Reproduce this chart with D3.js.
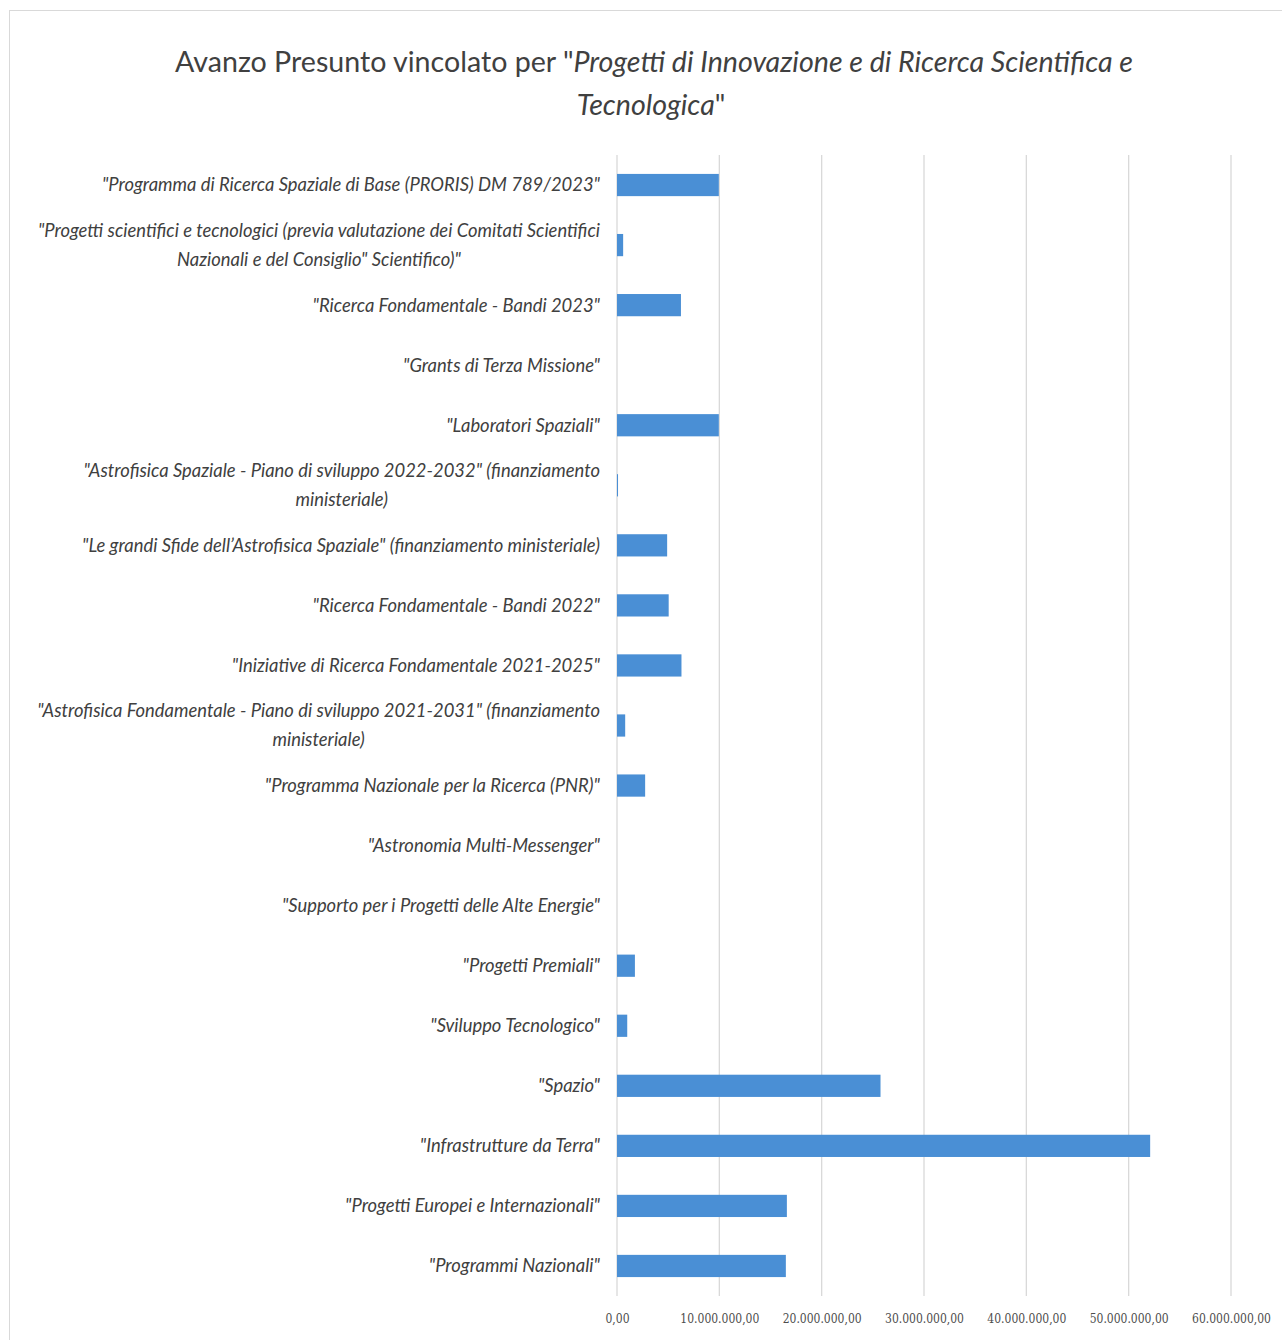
<!DOCTYPE html>
<html>
<head>
<meta charset="utf-8">
<script src="https://cdn.jsdelivr.net/npm/d3@7"></script>
<style>
  body { margin: 0; background: #fff; }
</style>
</head>
<body>
<div id="chart"></div>
<script>
// categories top to bottom, "\n" marks a line break in the label
const categories = [
    '"Programma di Ricerca Spaziale di Base (PRORIS) DM 789/2023"',
    '"Progetti scientifici e tecnologici (previa valutazione dei Comitati Scientifici\nNazionali e del Consiglio" Scientifico)"',
    '"Ricerca Fondamentale - Bandi 2023"',
    '"Grants di Terza Missione"',
    '"Laboratori Spaziali"',
    '"Astrofisica Spaziale - Piano di sviluppo 2022-2032" (finanziamento\nministeriale)',
    '"Le grandi Sfide dell\u2019Astrofisica Spaziale" (finanziamento ministeriale)',
    '"Ricerca Fondamentale - Bandi 2022"',
    '"Iniziative di Ricerca Fondamentale 2021-2025"',
    '"Astrofisica Fondamentale - Piano di sviluppo 2021-2031" (finanziamento\nministeriale)',
    '"Programma Nazionale per la Ricerca (PNR)"',
    '"Astronomia Multi-Messenger"',
    '"Supporto per i Progetti delle Alte Energie"',
    '"Progetti Premiali"',
    '"Sviluppo Tecnologico"',
    '"Spazio"',
    '"Infrastrutture da Terra"',
    '"Progetti Europei e Internazionali"',
    '"Programmi Nazionali"'
]

// euro amounts, same order as categories
const values = [
    9950000, 600000, 6250000, 0, 9950000, 100000, 4900000, 5050000, 6300000,
    800000, 2750000, 0, 0, 1750000, 1000000, 25750000, 52100000, 16600000, 16500000
]

const xTicks = [0, 10000000, 20000000, 30000000, 40000000, 50000000, 60000000]

const titleLine1 = ["Avanzo  Presunto vincolato per \"", "Progetti di Innovazione e di Ricerca Scientifica e"]
const titleLine2 = ["Tecnologica", "\""]

function drawChart() {
    const width = 1282
    const height = 1340
    const plotLeft = 617
    const plotRight = 1231
    const plotTop = 155
    const plotBottom = 1296
    const textColor = "#404040"

    const svg = d3.select("#chart").append("svg")
        .attr("width", width).attr("height", height)
        .style("font-family", "Lato, 'Open Sans', sans-serif")

    // outer chart border
    svg.append("rect")
        .attr("x", 9.5).attr("y", 10.5)
        .attr("width", width + 10).attr("height", height + 10)
        .attr("fill", "#fff").attr("stroke", "#d9d9d9")

    const x = d3.scaleLinear().domain([0, 60000000]).range([plotLeft, plotRight])
    const y = d3.scaleBand().domain(categories).range([plotTop, plotBottom])
        .paddingInner(0.63).paddingOuter(0.315)

    // italian number format: 10.000.000,00
    const it = d3.formatLocale({ decimal: ",", thousands: ".", grouping: [3], currency: ["", " €"] })
    const fmt = it.format(",.2f")

    // gridlines
    svg.append("g").selectAll("line")
        .data(xTicks).join("line")
        .attr("x1", (d) => x(d)).attr("x2", (d) => x(d))
        .attr("y1", plotTop).attr("y2", plotBottom)
        .attr("stroke", "#d9d9d9").attr("stroke-width", 1.3)

    // tick labels
    const xAxis = svg.append("g")
        .attr("transform", `translate(0, ${plotBottom})`)
        .call(d3.axisBottom(x).tickValues(xTicks).tickFormat(fmt).tickSize(0).tickPadding(18))
    xAxis.select(".domain").remove()
    xAxis.selectAll("text")
        .attr("fill", "#4d4d4d")
        .style("font-size", "12px")
        .style("font-family", "'DejaVu Serif Condensed', 'Liberation Serif', serif")

    // bars
    svg.append("g").selectAll("rect")
        .data(categories).join("rect")
        .attr("x", x(0))
        .attr("y", (d) => y(d))
        .attr("width", (d, i) => x(values[i]) - x(0))
        .attr("height", y.bandwidth())
        .attr("fill", "#4a8fd5")

    // category labels: block right-aligned, lines centred in the block
    const labelRight = 600
    const lineGap = 29
    categories.forEach((cat) => {
        const lines = cat.split("\n")
        const g = svg.append("g")
        const texts = g.selectAll("text").data(lines).join("text")
            .attr("font-size", 18.4)
            .attr("font-style", "italic")
            .attr("fill", textColor)
            .attr("text-anchor", "middle")
            .text((d) => d)
        let blockW = 0
        texts.each(function () { blockW = Math.max(blockW, this.getComputedTextLength()) })
        const cy = y(cat) + y.bandwidth() / 2
        const firstY = cy - (lines.length - 1) * lineGap / 2
        texts.attr("x", labelRight - blockW / 2)
            .attr("y", (d, i) => firstY + i * lineGap)
            .attr("dy", "0.35em")
    })

    // title
    const title = svg.append("g").attr("fill", textColor).attr("font-size", 28.6)
        .style("white-space", "pre")
    const t1 = title.append("text").attr("x", 654).attr("y", 72).attr("text-anchor", "middle")
    t1.append("tspan").text(titleLine1[0])
    t1.append("tspan").attr("font-style", "italic").text(titleLine1[1])
    const t2 = title.append("text").attr("x", 651).attr("y", 115).attr("text-anchor", "middle")
    t2.append("tspan").attr("font-style", "italic").text(titleLine2[0])
    t2.append("tspan").text(titleLine2[1])
}

drawChart()
</script>
</body>
</html>
